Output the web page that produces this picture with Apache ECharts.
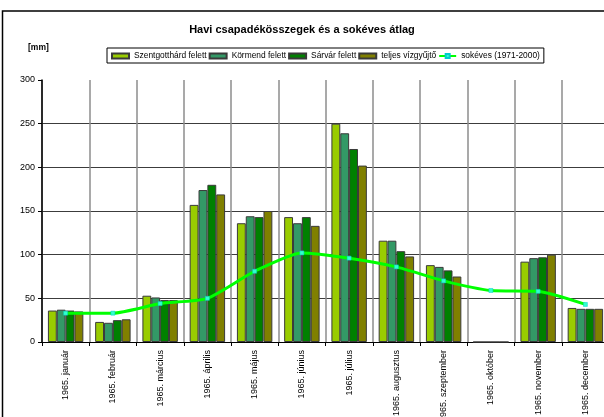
<!DOCTYPE html>
<html lang="hu">
<head>
<meta charset="UTF-8" />
<title>Havi csapadékösszegek</title>
<style>
  * { margin: 0; padding: 0; box-sizing: border-box; }
  html, body { background: #fff; }
  #chart { width: 604px; height: 417px; }
</style>
</head>
<body>
<div id="chart"></div>
<script src="https://cdn.jsdelivr.net/npm/echarts@6/dist/echarts.min.js"></script>
<script>
  // hónapok
  var months = ['1965. január', '1965. február', '1965. március', '1965. április', '1965. május', '1965. június',
    '1965. július', '1965. augusztus', '1965. szeptember', '1965. október', '1965. november', '1965. december'];

  // csapadék [mm]
  var szentgotthard = [36, 23, 53, 157, 136, 143, 250, 116, 88, 0, 92, 39];
  var kormend = [37, 22, 51, 174, 144, 136, 239, 116, 86, 0, 96, 38];
  var sarvar = [36, 25, 48, 180, 143, 143, 221, 104, 82, 0, 97, 38];
  var teljes = [35, 26, 48, 169, 150, 133, 202, 98, 75, 0, 100, 38];
  var sokeves = [33, 33, 44, 50, 81, 102, 96, 86, 70, 59, 58, 43];

  var yTicks = [0, 50, 100, 150, 200, 250, 300];

  var font = 'Arial, "Liberation Sans", sans-serif';

  function barSeries(name, data, color) {
    return {
      name: name,
      type: 'bar',
      data: data,
      barGap: '0%',
      barCategoryGap: '25%',
      itemStyle: { color: color, borderColor: '#3a3a3a', borderWidth: 1 }
    };
  }

  var chart = echarts.init(document.getElementById('chart'));
  chart.setOption({
    animation: false,
    backgroundColor: '#fff',
    textStyle: { fontFamily: font },
    title: {
      text: 'Havi csapadékösszegek és a sokéves átlag',
      left: 'center',
      top: 19,
      textStyle: { fontSize: 11, fontWeight: 'bold', color: '#000', fontFamily: font }
    },
    legend: {
      left: 107,
      top: 48,
      padding: [4, 4, 3, 4],
      itemGap: 2,
      itemWidth: 17,
      itemHeight: 5,
      borderColor: '#000',
      borderWidth: 1,
      textStyle: { fontSize: 8.4, color: '#000', fontFamily: font },
      data: [
        { name: 'Szentgotthárd felett', icon: 'rect' },
        { name: 'Körmend felett', icon: 'rect' },
        { name: 'Sárvár felett', icon: 'rect' },
        { name: 'teljes vízgyűjtő', icon: 'rect' },
        { name: 'sokéves (1971-2000)' }
      ]
    },
    graphic: [
      {
        type: 'rect',
        shape: { x: 2.5, y: 11, width: 700, height: 500 },
        style: { fill: 'none', stroke: '#000', lineWidth: 1.5 },
        silent: true
      },
      {
        type: 'text',
        left: 28,
        top: 43,
        style: { text: '[mm]', font: 'bold 8.5px ' + font, fill: '#000' }
      }
    ],
    grid: { left: 42, top: 80, width: 567, height: 262, containLabel: false, outerBoundsMode: 'none' },
    xAxis: {
      type: 'category',
      data: months,
      axisLine: { lineStyle: { color: '#000', width: 1 } },
      axisTick: { show: true, length: 4, lineStyle: { color: '#000' } },
      splitLine: { show: true, interval: 0, lineStyle: { color: '#8c8c8c', width: 1.5 } },
      axisLabel: { rotate: 90, interval: 0, fontSize: 9, color: '#000', margin: 8, fontFamily: font }
    },
    yAxis: {
      type: 'value',
      min: yTicks[0],
      max: yTicks[yTicks.length - 1],
      interval: 50,
      axisLine: { show: true, lineStyle: { color: '#000', width: 1.5 } },
      axisTick: { show: true, length: 4, lineStyle: { color: '#000' } },
      axisLabel: { fontSize: 9, color: '#000', margin: 7, fontFamily: font },
      splitLine: {
        show: true,
        lineStyle: {
          color: ['#3c3c3c', '#3c3c3c', '#3c3c3c', '#3c3c3c', '#3c3c3c', '#3c3c3c', 'rgba(0,0,0,0)'],
          width: 1.2
        }
      }
    },
    series: [
      barSeries('Szentgotthárd felett', szentgotthard, '#99cc00'),
      barSeries('Körmend felett', kormend, '#339966'),
      barSeries('Sárvár felett', sarvar, '#008000'),
      barSeries('teljes vízgyűjtő', teljes, '#808000'),
      {
        name: 'sokéves (1971-2000)',
        type: 'line',
        data: sokeves,
        smooth: 0.2,
        symbol: 'rect',
        symbolSize: 4,
        showAllSymbol: true,
        lineStyle: { color: '#00ff00', width: 3 },
        itemStyle: { color: '#33ffcc', borderColor: '#00cccc', borderWidth: 0.5 },
        z: 5
      }
    ]
  });
</script>
</body>
</html>
